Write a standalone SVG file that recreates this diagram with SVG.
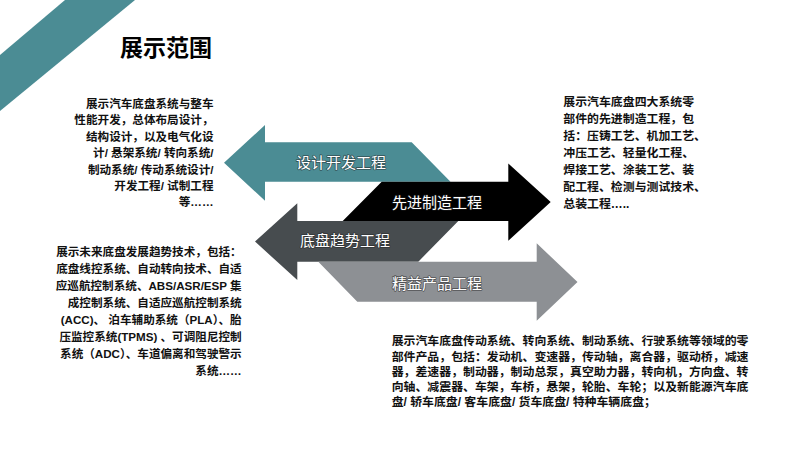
<svg xmlns="http://www.w3.org/2000/svg" width="800" height="449" viewBox="0 0 800 449">
<style>
.t{font-family:"Liberation Sans","Noto Sans CJK SC",sans-serif;font-weight:bold;fill:#111;}
.l{font-size:11.6px;text-anchor:end;}
.r{font-size:11.9px;}
.a{font-family:"Noto Sans CJK SC","Liberation Sans",sans-serif;font-size:15px;fill:#fff;text-anchor:middle;stroke:#222;stroke-width:1.6px;stroke-opacity:0.55;paint-order:stroke;stroke-linejoin:round;}
</style>
<rect width="800" height="449" fill="#fff"/>
<polygon id="banner" points="65,0 135,0 0,111 0,55" fill="#4B8C94"/>
<text id="title" x="120" y="55.7" class="t" style="font-size:23px;fill:#000">展示范围</text>
<g id="connectors">
<g id="arrow-design">
<polygon points="224,162.8 265,125 265,142.3 411.7,142.3 450.5,181.7 265,181.7 265,200.7" fill="#4B8C94"/>
<text class="a" x="341" y="168.3">设计开发工程</text>
</g>
<g id="arrow-manufacture">
<polygon points="550.7,202.1 508.3,163.5 508.3,181.7 381.7,181.7 342.7,221 508.3,221 508.3,240.7" fill="#000"/>
<text class="a" x="437" y="208.3">先进制造工程</text>
</g>
<g id="arrow-trend">
<polygon points="255,241.6 297.3,203.3 297.3,221 458.3,221 418.3,261.7 297.3,261.7 297.3,280" fill="#474C4F"/>
<text class="a" x="345" y="246">底盘趋势工程</text>
</g>
<g id="arrow-product">
<polygon points="577.5,282 536.7,243.3 536.7,261.7 318.3,261.7 357.3,301.7 536.7,301.7 536.7,320.7" fill="#8D9094"/>
<text class="a" x="437" y="289">精益产品工程</text>
</g>
</g>
<g id="node-design">
<text class="t l" x="213.5" y="108">展示汽车底盘系统与整车</text>
<text class="t l" x="213.5" y="124.4">性能开发，总体布局设计，</text>
<text class="t l" x="213.5" y="140.8">结构设计，以及电气化设</text>
<text class="t l" x="213.5" y="157.2">计/ 悬架系统/ 转向系统/</text>
<text class="t l" x="213.5" y="173.6">制动系统/ 传动系统设计/</text>
<text class="t l" x="213.5" y="190">开发工程/ 试制工程</text>
<text class="t l" x="213.5" y="206.4">等……</text>
</g>
<g id="node-manufacture">
<text class="t r" x="563.3" y="106.4">展示汽车底盘四大系统零</text>
<text class="t r" x="563.3" y="123.3">部件的先进制造工程，包</text>
<text class="t r" x="563.3" y="140.3">括：压铸工艺、机加工艺、</text>
<text class="t r" x="563.3" y="157.2">冲压工艺、轻量化工程、</text>
<text class="t r" x="563.3" y="174.1">焊接工艺、涂装工艺、装</text>
<text class="t r" x="563.3" y="191.1">配工程、检测与测试技术、</text>
<text class="t r" x="563.3" y="208">总装工程…..</text>
</g>
<g id="node-trend">
<text class="t l" x="241.7" y="256.4">展示未来底盘发展趋势技术，包括：</text>
<text class="t l" x="241.7" y="273.4">底盘线控系统、自动转向技术、自适</text>
<text class="t l" x="241.7" y="290.4">应巡航控制系统、ABS/ASR/ESP 集</text>
<text class="t l" x="241.7" y="307.4">成控制系统、自适应巡航控制系统</text>
<text class="t l" x="241.7" y="324.4">(ACC)、 泊车辅助系统（PLA）、胎</text>
<text class="t l" x="241.7" y="341.4">压监控系统(TPMS) 、可调阻尼控制</text>
<text class="t l" x="241.7" y="358.4">系统（ADC）、车道偏离和驾驶警示</text>
<text class="t l" x="241.7" y="375.4">系统……</text>
</g>
<g id="node-product">
<text class="t r" x="391.7" y="345.4">展示汽车底盘传动系统、转向系统、制动系统、行驶系统等领域的零</text>
<text class="t r" x="391.7" y="360.6">部件产品，包括：发动机、变速器，传动轴，离合器，驱动桥，减速</text>
<text class="t r" x="391.7" y="375.8">器，差速器，制动器，制动总泵，真空助力器，转向机，方向盘、转</text>
<text class="t r" x="391.7" y="391">向轴、减震器、车架，车桥，悬架，轮胎、车轮；以及新能源汽车底</text>
<text class="t r" x="391.7" y="406.2">盘/ 轿车底盘/ 客车底盘/ 货车底盘/ 特种车辆底盘；</text>
</g>
</svg>
